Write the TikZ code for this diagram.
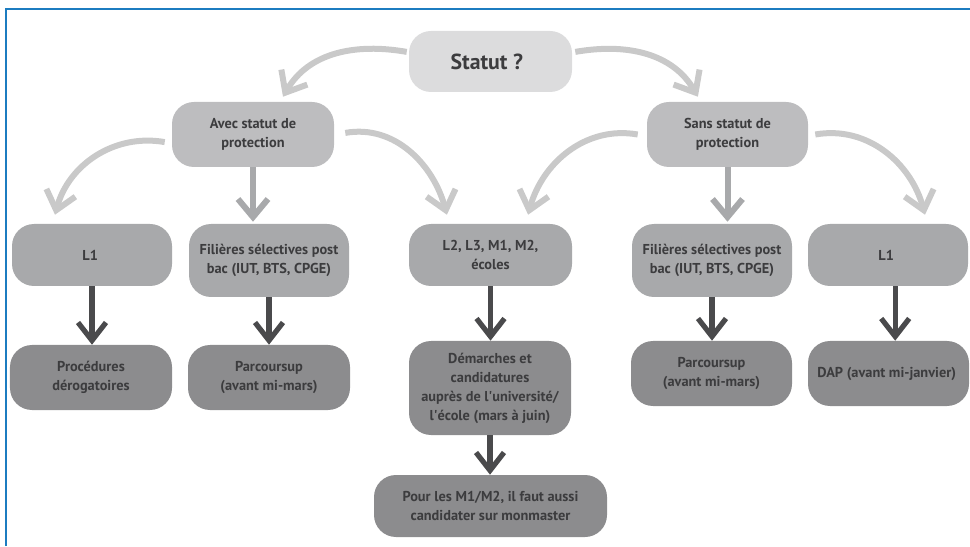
\documentclass[tikz,border=0pt]{standalone}
\usepackage{fontspec}
\setmainfont{PT Sans}
\usetikzlibrary{arrows.meta}

\begin{document}
\begin{tikzpicture}[
    box/.style={rounded corners=0.55cm, inner sep=0pt, align=center, text=r60g60b62,
                font=\bfseries\fontsize{10.2}{13.5}\selectfont},
    lightarrow/.style={draw=r201g201b201, line width=0.15cm,
                -{Straight Barb[length=0.45cm,width=0.75cm]}},
    midarrow/.style={lightarrow, draw=r168g169b171},
    darkarrow/.style={draw=r74g74b76, line width=0.13cm,
                -{Straight Barb[length=0.45cm,width=0.7cm]}}]
                            \useasboundingbox (0.000000,0.000000) rectangle (24.250000,13.650000);
                            
                            % Changing colors
                            \definecolor{r28g124b192}{rgb}{0.109804,0.486275,0.752941}%
                            \definecolor{r220g220b221}{rgb}{0.862745,0.862745,0.866667}%
                            \definecolor{r189g189b191}{rgb}{0.741176,0.741176,0.749020}%
                            \definecolor{r168g169b171}{rgb}{0.658824,0.662745,0.670588}%
                            \definecolor{r140g140b142}{rgb}{0.549020,0.549020,0.556863}%
                            \definecolor{r201g201b201}{rgb}{0.788235,0.788235,0.788235}%
                            \definecolor{r74g74b76}{rgb}{0.290196,0.290196,0.298039}%
                            \definecolor{r60g60b62}{rgb}{0.235294,0.235294,0.243137}%
                            
                            % Drawing frame
                            \draw [line width=0.050cm, r28g124b192] (0.150000,0.000000) -- (0.150000,13.425000) -- (24.250000,13.425000);%
                            
                            % Drawing boxes, level 1 and 2
                            \node [box, fill=r220g220b221, minimum width=4.075cm, minimum height=1.525cm,
                                   font=\bfseries\fontsize{15.5}{18}\selectfont] (statut) at (12.262500,12.112500) { Statut ? };%
                            \node [box, fill=r189g189b191, minimum width=4.050cm, minimum height=1.625cm] (avec) at (6.325000,10.287500) { Avec statut de\\protection };%
                            \node [box, fill=r189g189b191, minimum width=4.025cm, minimum height=1.625cm] (sans) at (18.187500,10.287500) { Sans statut de\\protection };%
                            
                            % Drawing boxes, level 3
                            \node [box, fill=r168g169b171, minimum width=4.000cm, minimum height=1.550cm] (l1a) at (2.300000,7.275000) { L1 };%
                            \node [box, fill=r168g169b171, minimum width=4.000cm, minimum height=1.825cm] (fila) at (6.725000,7.137500) { Filières sélectives post\\bac (IUT, BTS, CPGE) };%
                            \node [box, fill=r168g169b171, minimum width=4.075cm, minimum height=1.550cm] (lmaster) at (12.262500,7.275000) { L2, L3, M1, M2,\\écoles };%
                            \node [box, fill=r168g169b171, minimum width=4.000cm, minimum height=1.825cm] (filb) at (17.800000,7.137500) { Filières sélectives post\\bac (IUT, BTS, CPGE) };%
                            \node [box, fill=r168g169b171, minimum width=4.000cm, minimum height=1.550cm] (l1b) at (22.200000,7.275000) { L1 };%
                            
                            % Drawing boxes, level 4 and 5
                            \node [box, fill=r140g140b142, minimum width=4.050cm, minimum height=1.625cm] (proc) at (2.275000,4.212500) { Procédures\\dérogatoires };%
                            \node [box, fill=r140g140b142, minimum width=4.050cm, minimum height=1.625cm] (parca) at (6.725000,4.212500) { Parcoursup\\(avant mi-mars) };%
                            \node [box, fill=r140g140b142, minimum width=4.050cm, minimum height=2.350cm] (dem) at (12.250000,3.950000) { Démarches et\\candidatures\\auprès de l\textquotesingle université/\\l\textquotesingle école (mars à juin) };%
                            \node [box, fill=r140g140b142, minimum width=4.025cm, minimum height=1.625cm] (parcb) at (17.787500,4.312500) { Parcoursup\\(avant mi-mars) };%
                            \node [box, fill=r140g140b142, minimum width=4.025cm, minimum height=1.625cm] (dap) at (22.212500,4.312500) { DAP (avant mi-janvier) };%
                            \node [box, fill=r140g140b142, minimum width=5.825cm, minimum height=1.550cm] (master) at (12.262500,1.000000) { Pour les M1/M2, il faut aussi\\candidater sur monmaster };%
                            
                            % Drawing curved arrows
                            \draw [lightarrow] ([xshift=-0.050000cm,yshift=0.240000cm]statut.west) to [out=170,in=60] ([xshift=0.750000cm,yshift=0.125000cm]avec.north);%
                            \draw [lightarrow] ([xshift=0.075000cm,yshift=0.240000cm]statut.east) to [out=10,in=120] ([xshift=-0.740000cm,yshift=0.125000cm]sans.north);%
                            \draw [lightarrow] ([xshift=-0.175000cm,yshift=-0.190000cm]avec.west) to [out=170,in=75] ([xshift=-0.925000cm,yshift=0.225000cm]l1a.north);%
                            \draw [lightarrow] ([xshift=0.275000cm,yshift=0.040000cm]avec.east) to [out=10,in=105] ([xshift=-1.090000cm,yshift=0.225000cm]lmaster.north);%
                            \draw [lightarrow] ([xshift=-0.225000cm]sans.west) to [out=170,in=75] ([xshift=0.940000cm,yshift=0.225000cm]lmaster.north);%
                            \draw [lightarrow] ([xshift=0.175000cm]sans.east) to [out=10,in=105] ([xshift=0.925000cm,yshift=0.225000cm]l1b.north);%
                            
                            % Drawing straight arrows
                            \draw [midarrow] (avec.south) -- ([yshift=0.050000cm]avec.south |- fila.north);%
                            \draw [midarrow] (sans.south) -- ([yshift=0.050000cm]sans.south |- filb.north);%
                            \draw [darkarrow] (l1a.south) -- (l1a.south |- proc.north);%
                            \draw [darkarrow] (fila.south) -- (fila.south |- parca.north);%
                            \draw [darkarrow] (lmaster.south) -- (lmaster.south |- dem.north);%
                            \draw [darkarrow] (dem.south) -- (dem.south |- master.north);%
                            \draw [darkarrow] (filb.south) -- (filb.south |- parcb.north);%
                            \draw [darkarrow] ([xshift=0.180000cm]l1b.south) -- ([xshift=0.180000cm]l1b.south |- dap.north);%
                            \end{tikzpicture}
\end{document}
